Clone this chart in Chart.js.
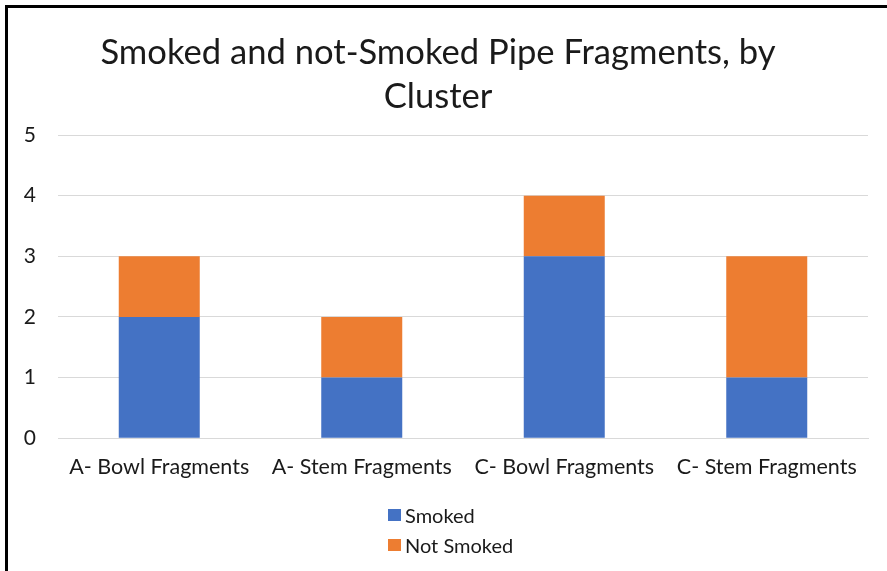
<!DOCTYPE html>
<html>
<head>
<meta charset="utf-8">
<script src="https://cdn.jsdelivr.net/npm/chart.js@4"></script>
<style>
  html, body { margin: 0; padding: 0; background: #fff; overflow: hidden; }
  #wrap { position: relative; width: 887px; height: 571px; }
  #chart { display: block; }
  #frame { position: absolute; left: 5px; top: 5px; width: 900px; height: 600px;
           border-left: 3px solid #000; border-top: 3px solid #000; pointer-events: none; }
  #legend { position: absolute; left: 388px; top: 500px; font-family: Lato, sans-serif;
            font-size: 20px; color: #1a1a1a; }
  .item { height: 30px; line-height: 24px; display: flex; align-items: center; }
  .box { width: 13px; height: 12px; margin-right: 4px; }
</style>
</head>
<body>
<div id="wrap">
  <canvas id="chart" width="887" height="571"></canvas>
  <div id="frame"></div>
  <div id="legend"></div>
</div>
<script>
const categories = ["A- Bowl Fragments", "A- Stem Fragments", "C- Bowl Fragments", "C- Stem Fragments"];
const smoked = [2, 1, 3, 1];
const notSmoked = [1, 1, 1, 2];
const seriesNames = ["Smoked", "Not Smoked"];
const seriesColors = ["#4472C4", "#ED7D31"];
const titleLines = ["Smoked and not-Smoked Pipe Fragments, by", "Cluster"];

const font = "Lato, sans-serif";
const textColor = "#1a1a1a";

const ctx = document.getElementById("chart").getContext("2d");
const chart = new Chart(ctx, {
  type: "bar",
  data: {
    labels: categories,
    datasets: [
      { label: seriesNames[0], data: smoked, backgroundColor: seriesColors[0], borderWidth: 0 },
      { label: seriesNames[1], data: notSmoked, backgroundColor: seriesColors[1], borderWidth: 0 }
    ]
  },
  options: {
    responsive: false,
    animation: false,
    barPercentage: 0.4,
    categoryPercentage: 1,
    layout: { padding: { left: 8, right: 19, top: 8, bottom: 75 } },
    plugins: {
      legend: { display: false },
      tooltip: { enabled: false },
      title: {
        display: true,
        text: titleLines,
        color: textColor,
        font: { family: font, size: 34.6, weight: "normal", lineHeight: 44 / 34.6 },
        padding: { top: 23, bottom: 16 }
      }
    },
    scales: {
      x: {
        stacked: true,
        grid: { display: false, drawTicks: false },
        border: { color: "#d9d9d9", width: 1 },
        ticks: { color: textColor, font: { family: font, size: 21.5 }, padding: 16, maxRotation: 0 }
      },
      y: {
        stacked: true,
        min: 0,
        max: 5,
        afterFit: s => { s.width = 50; },
        grid: { color: "#d9d9d9", drawTicks: false },
        border: { display: false },
        ticks: { stepSize: 1, color: textColor, font: { family: font, size: 21 }, padding: 22 }
      }
    }
  }
});

// vertical legend below the plot
const legend = document.getElementById("legend");
chart.data.datasets.forEach(ds => {
  const row = document.createElement("div");
  row.className = "item";
  const box = document.createElement("span");
  box.className = "box";
  box.style.background = ds.backgroundColor;
  const txt = document.createElement("span");
  txt.textContent = ds.label;
  row.appendChild(box);
  row.appendChild(txt);
  legend.appendChild(row);
});
</script>
</body>
</html>
